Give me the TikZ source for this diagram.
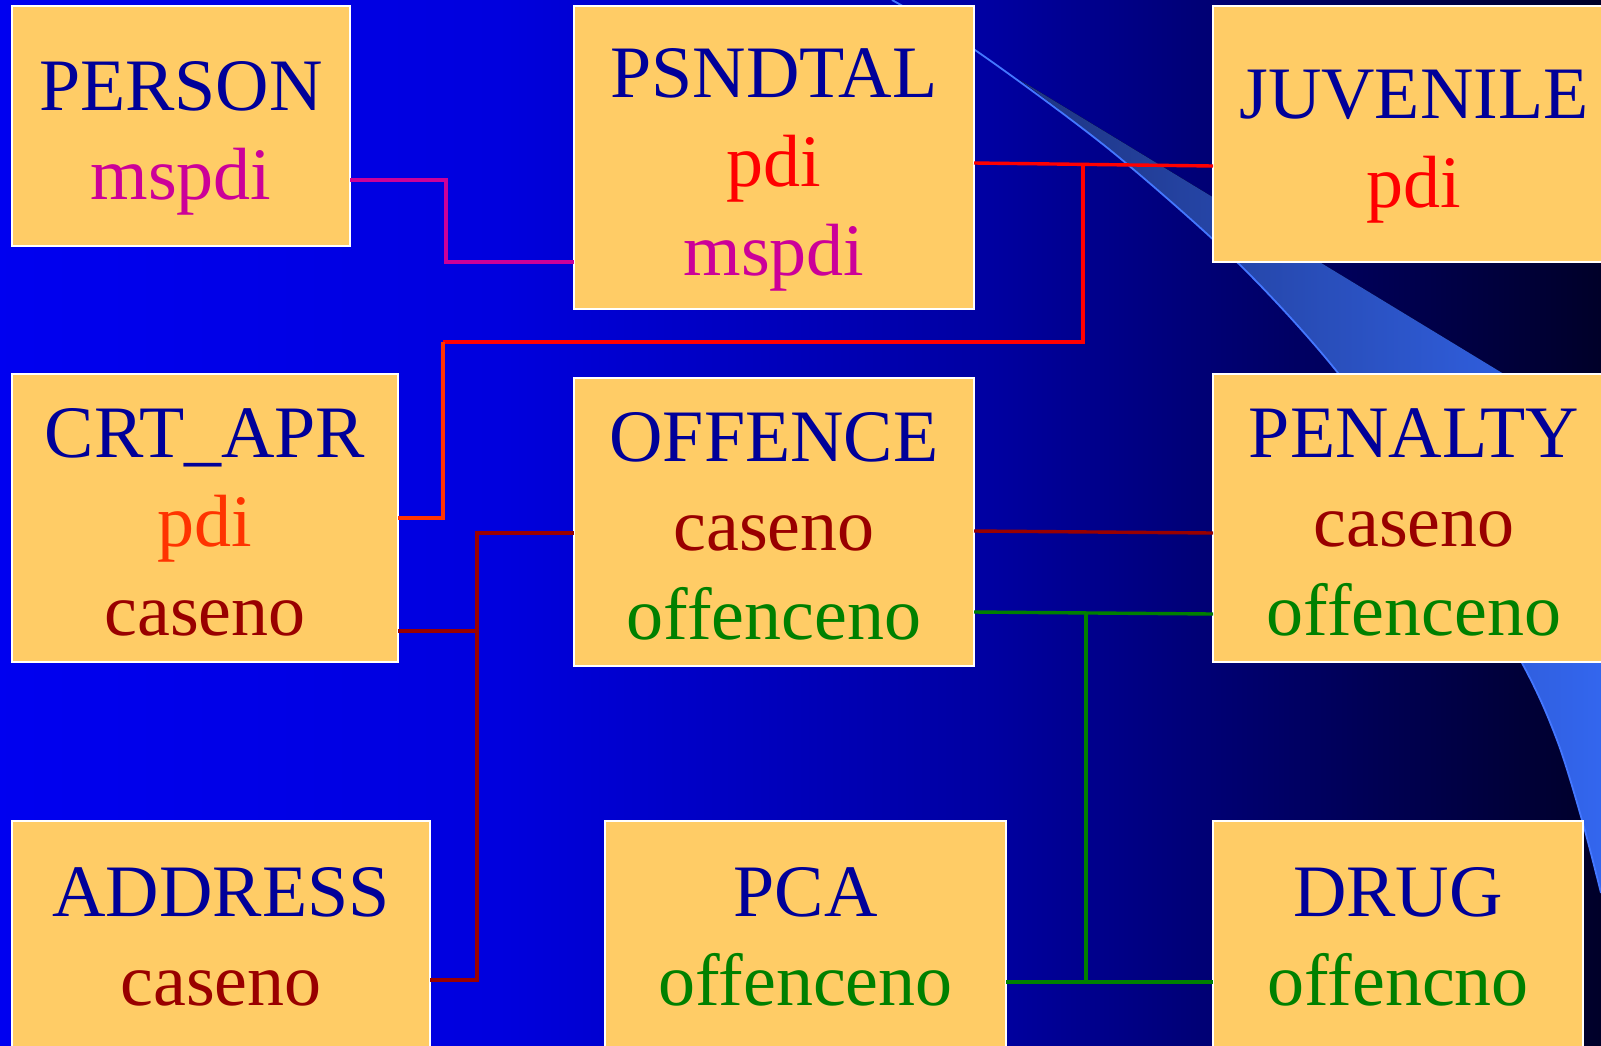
\documentclass[tikz,border=0pt]{standalone}
\usepackage{fontspec}
\setmainfont{Liberation Serif}
\usepackage{xcolor}
\usepackage{tikz}
\definecolor{titleBlue}{RGB}{0,0,153}
\definecolor{boxFill}{RGB}{255,204,102}
\definecolor{keyMag}{RGB}{204,0,153}
\definecolor{keyRed}{RGB}{255,0,0}
\definecolor{keyOrange}{RGB}{255,51,0}
\definecolor{keyCase}{RGB}{153,0,0}
\definecolor{keyOff}{RGB}{0,128,0}
\definecolor{sweepLine}{RGB}{68,119,255}
\definecolor{sweepDark}{RGB}{30,52,130}
\definecolor{sweepLight}{RGB}{51,102,238}
\pgfdeclarehorizontalshading{slideBg}{100bp}{rgb(0bp)=(0,0,0.94); rgb(25bp)=(0,0,0.94);
  rgb(40.6bp)=(0,0,0.87); rgb(56bp)=(0,0,0.63); rgb(62.5bp)=(0,0,0.46);
  rgb(75bp)=(0,0,0.16); rgb(100bp)=(0,0,0.16)}
\newcommand{\topStrut}{\rule{0pt}{36.5pt}}
\newcommand{\baseStrut}{\rule[-8pt]{0pt}{0pt}}
\newcommand{\lowStrut}{\rule[-24pt]{0pt}{0pt}}
\tikzset{%
  % Specifications for style of nodes:
  table/.style = {rectangle, draw=white, line width=1pt, fill=boxFill,
    anchor=north west, inner sep=0pt, outer sep=0pt,
    text=titleBlue, align=center,
    font=\fontsize{37}{44.5}\selectfont},
  link/.style = {line width=1.7pt},
  magLink/.style = {link, draw=keyMag},
  redLink/.style = {link, draw=keyRed},
  orangeLink/.style = {link, draw=keyOrange},
  caseLink/.style = {link, draw=keyCase},
  offLink/.style = {link, draw=keyOff},
}

\begin{document}
\begin{tikzpicture}[x=0.5pt, y=-0.5pt]
        \useasboundingbox (0,0) rectangle (1601,1045);
        \clip (0,0) rectangle (1601,1045);
        % Background and sweep
        \shade[shading=slideBg] (0,0) rectangle (1601,1045);
        \fill[left color=sweepDark, right color=sweepLight]
          plot[smooth, tension=0.5] coordinates {(1020,80) (1110,150) (1238,263)
            (1338,373) (1430,505) (1522,663) (1557,740) (1582,820) (1601,893)}
          -- (1601,433) -- cycle;
        \draw[sweepLine, line width=0.9pt]
          plot[smooth, tension=0.5] coordinates {(892,0) (975,50) (1110,150) (1238,263)
            (1338,373) (1430,505) (1522,663) (1557,740) (1582,820) (1601,893)};
        % Specification of nodes (position, etc.)
        \node(Person)[table, minimum width=169pt, minimum height=120pt] at (12,6)
          {\topStrut PERSON\\\textcolor{keyMag}{mspdi}\baseStrut};
        \node(Psndtal)[table, minimum width=200pt, minimum height=151.5pt] at (574,6)
          {\topStrut PSNDTAL\\\textcolor{keyRed}{pdi}\\\textcolor{keyMag}{mspdi}\baseStrut};
        \node(Juvenile)[table, minimum width=201pt, minimum height=128pt] at (1213,6)
          {\topStrut JUVENILE\\\textcolor{keyRed}{pdi}\baseStrut};
        \node(CrtApr)[table, minimum width=193pt, minimum height=144pt] at (12,374)
          {\topStrut CRT\_APR\\\textcolor{keyOrange}{pdi}\\\textcolor{keyCase}{caseno}\baseStrut};
        \node(Offence)[table, minimum width=200pt, minimum height=144pt] at (574,378)
          {\topStrut OFFENCE\\\textcolor{keyCase}{caseno}\\\textcolor{keyOff}{offenceno}\baseStrut};
        \node(Penalty)[table, minimum width=201pt, minimum height=144pt] at (1213,374)
          {\topStrut PENALTY\\\textcolor{keyCase}{caseno}\\\textcolor{keyOff}{offenceno}\baseStrut};
        \node(Address)[table, minimum width=209pt, minimum height=127pt] at (12,821)
          {\topStrut ADDRESS\\\textcolor{keyCase}{caseno}\lowStrut};
        \node(Pca)[table, minimum width=200.5pt, minimum height=127pt] at (605,821)
          {\topStrut PCA\\\textcolor{keyOff}{offenceno}\lowStrut};
        \node(Drug)[table, minimum width=185pt, minimum height=127pt] at (1213,821)
          {\topStrut DRUG\\\textcolor{keyOff}{offencno}\lowStrut};
        % Key links
        \coordinate (redJoint) at (1083,164);
        \coordinate (redBend) at (443,342);
        \coordinate (offJoint) at (1086,613);
        \draw[magLink]([yshift=-27pt]Person.east) -- ++(96,0) |- ([yshift=-52.25pt]Psndtal.west);
        \draw[redLink]([yshift=-2.75pt]Psndtal.east) -- ([yshift=-16pt]Juvenile.west);
        \draw[redLink](redJoint) |- (redBend);
        \draw[orangeLink](redBend) |- (CrtApr.east);
        \draw[caseLink]([yshift=-5.5pt]Offence.west) -| ([xshift=23.5pt,yshift=-16pt]Address.east)
          -- ([yshift=-16pt]Address.east);
        \draw[caseLink]([yshift=-56.5pt]CrtApr.east) -- ++(79,0);
        \draw[caseLink]([yshift=-4.5pt]Offence.east) -- ([yshift=-7.5pt]Penalty.west);
        \draw[offLink]([yshift=-45pt]Offence.east) -- ([yshift=-48pt]Penalty.west);
        \draw[offLink]([yshift=-17pt]Pca.east) -- ([yshift=-17pt]Drug.west);
        \draw[offLink](offJoint) -- ++(0,369);
    \end{tikzpicture}
\end{document}
